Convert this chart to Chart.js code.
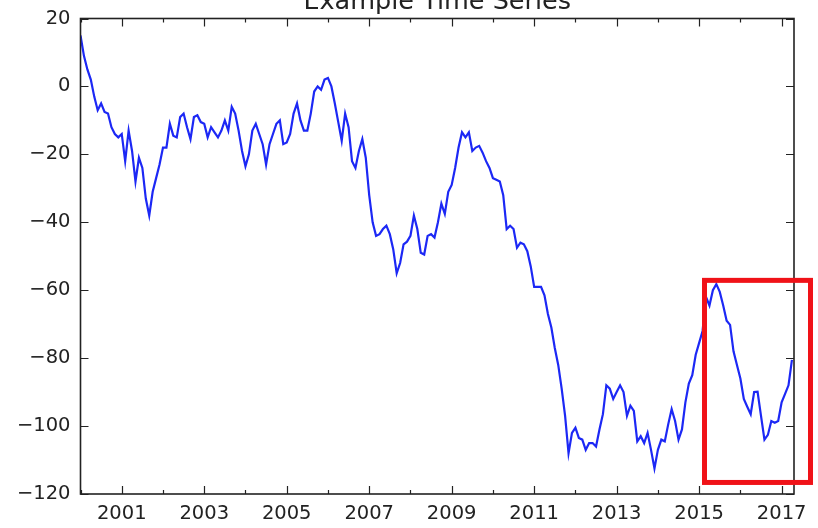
<!DOCTYPE html>
<html><head><meta charset="utf-8">
<script src="https://cdn.jsdelivr.net/npm/chart.js@4/dist/chart.umd.min.js"></script>
<style>
html,body{margin:0;padding:0;background:#fff;overflow:hidden;width:818px;height:528px;}
#wrap{position:absolute;left:0;top:-20px;width:818px;height:548px;}
canvas{display:block;}
</style></head><body>
<div id="wrap"><canvas id="c" width="818" height="548"></canvas></div>
<script>
const chartTitle = 'Example Time Series';
const startYear = 2000; // first monthly sample: January 2000
const values = [
  15, 9, 5, 2, -3, -7, -5, -7.5, -8, -12,
  -14, -15, -14, -22, -13, -19, -28, -21, -24, -33,
  -38, -31, -27, -23, -18, -18, -11, -14.5, -15, -9,
  -8, -12, -15.5, -9, -8.5, -10.5, -11, -15, -12, -13.5,
  -15, -13, -10, -13, -6, -8, -13, -19, -23.5, -20,
  -13, -11, -14, -17, -23, -17, -14, -11, -10, -17,
  -16.5, -14, -8, -5, -10, -13, -13, -8, -1.5, 0,
  -1, 2, 2.5, 0, -5, -10.5, -16, -8, -12, -22,
  -24, -19, -15.5, -21, -32, -40, -44, -43.5, -42, -41,
  -43.5, -48, -55, -52, -46.5, -45.7, -44, -38, -42, -49,
  -49.5, -44, -43.5, -44.5, -40, -34.5, -37.5, -31, -29, -24,
  -18, -13.5, -15, -13.5, -19, -18, -17.5, -19.5, -22, -24,
  -27, -27.5, -28, -32, -42, -41, -42, -47.5, -46, -46.5,
  -48.5, -53, -59, -59, -59, -61.5, -67, -71, -77, -82,
  -89, -97, -108, -102, -100.5, -103.5, -104, -107, -105, -105,
  -106, -101, -96.5, -88, -89, -92, -90, -88, -90, -97,
  -94, -95.5, -104.5, -103, -105, -102, -107, -112.5, -107, -104,
  -104.5, -99.5, -95, -98.5, -104, -101, -93, -87.5, -85, -79,
  -75.5, -72, -62, -64.5, -60, -58.2, -60.5, -64.5, -69, -70.2,
  -78, -82, -86, -92, -94.3, -96.5, -90, -89.9, -97, -104,
  -102.6, -98.5, -99, -98.5, -93, -90.5, -88, -80.5
];
const months = values.map((_, i) => startYear + i / 12);
const yTicks = [-120, -100, -80, -60, -40, -20, 0, 20];
const xTickYears = [2000,2001,2002,2003,2004,2005,2006,2007,2008,2009,2010,2011,2012,2013,2014,2015,2016,2017];
const xLabelYears = [2001,2003,2005,2007,2009,2011,2013,2015,2017];
const xRange = [2000, 2017.3];
const yRange = [-120, 20];
// red highlight box (annotation), in data units
const highlight = { x0: 2015.13, x1: 2017.70, yTop: -57.1, yBottom: -116.6 };

const FONT = 'DejaVu Sans';
const TEXT = '#222';

const framePlugin = {
  id: 'frame',
  afterDraw(chart) {
    const { ctx, chartArea: { left, right, top, bottom }, scales: { x, y } } = chart;
    ctx.save();
    ctx.strokeStyle = '#222';
    ctx.lineWidth = 1.2;
    ctx.beginPath();
    xTickYears.forEach(yr => {
      const px = Math.round(x.getPixelForValue(yr)) + 0.5;
      const len = xLabelYears.includes(yr) ? 8 : 4;
      ctx.moveTo(px, bottom); ctx.lineTo(px, bottom - len);
      ctx.moveTo(px, top); ctx.lineTo(px, top + len);
    });
    yTicks.forEach(v => {
      const py = Math.round(y.getPixelForValue(v)) + 0.5;
      ctx.moveTo(left, py); ctx.lineTo(left + 8, py);
      ctx.moveTo(right, py); ctx.lineTo(right - 8, py);
    });
    ctx.stroke();
    ctx.lineWidth = 1.6;
    ctx.strokeRect(left, top, right - left, bottom - top);
    // highlight annotation
    const hx0 = x.getPixelForValue(highlight.x0), hx1 = x.getPixelForValue(highlight.x1);
    const hy0 = y.getPixelForValue(highlight.yTop), hy1 = y.getPixelForValue(highlight.yBottom);
    ctx.strokeStyle = 'rgb(240,18,24)';
    ctx.lineWidth = 5;
    ctx.strokeRect(hx0, hy0, hx1 - hx0, hy1 - hy0);
    ctx.restore();
  }
};

new Chart(document.getElementById('c'), {
  type: 'line',
  data: {
    datasets: [{
      data: months.map((m, i) => ({ x: m, y: values[i] })),
      borderColor: 'rgb(28,40,245)',
      borderWidth: 2.2,
      pointRadius: 0,
      tension: 0,
      fill: false
    }]
  },
  options: {
    responsive: false,
    animation: false,
    devicePixelRatio: 1,
    layout: { padding: { left: 0, right: 24, top: 0, bottom: 0 } },
    plugins: {
      legend: { display: false },
      tooltip: { enabled: false },
      title: {
        display: true, text: chartTitle, color: TEXT, fullSize: false,
        font: { family: FONT, size: 25.5, weight: 'normal' },
        padding: { top: 7.5, bottom: 0.4 }
      }
    },
    scales: {
      x: {
        type: 'linear', min: xRange[0], max: xRange[1],
        afterBuildTicks: s => { s.ticks = xTickYears.map(v => ({ value: v })); },
        afterFit: s => { s.height = 34; },
        grid: { display: false, drawTicks: false }, border: { display: false },
        ticks: {
          autoSkip: false, maxRotation: 0, minRotation: 0, padding: 8, color: TEXT,
          font: { family: FONT, size: 19.5 },
          callback: v => xLabelYears.includes(v) ? String(v) : ''
        }
      },
      y: {
        type: 'linear', min: yRange[0], max: yRange[1],
        afterBuildTicks: s => { s.ticks = yTicks.map(v => ({ value: v })); },
        afterFit: s => { s.width = 80.5; },
        grid: { display: false, drawTicks: false }, border: { display: false },
        ticks: {
          padding: 10, color: TEXT,
          font: { family: FONT, size: 19.5 },
          callback: v => (v < 0 ? '\u2212' + Math.abs(v) : String(v))
        }
      }
    }
  },
  plugins: [framePlugin]
});
</script>
</body></html>
